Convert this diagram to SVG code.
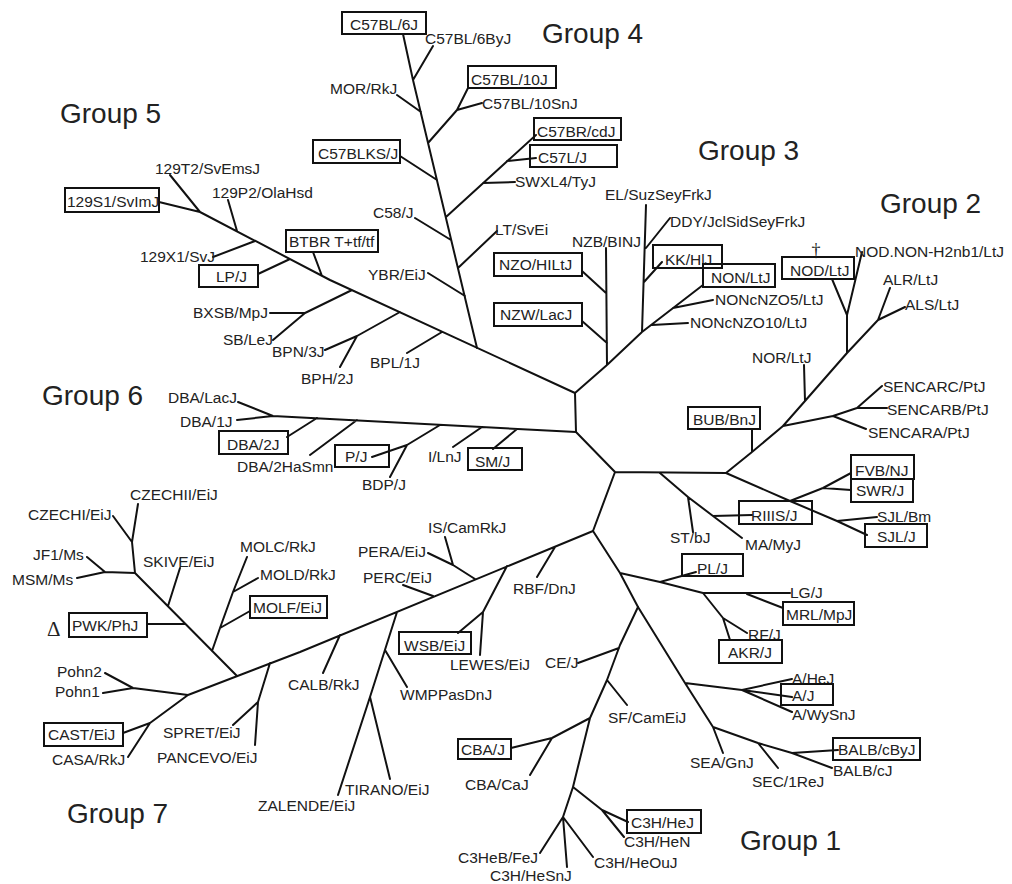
<svg xmlns="http://www.w3.org/2000/svg" width="1012" height="884" viewBox="0 0 1012 884">
<style>
.ln{stroke:#111;stroke-width:2;fill:none;stroke-linecap:round;stroke-linejoin:round}
.bx{fill:none;stroke:#111;stroke-width:2}
.t{font-family:"Liberation Sans",Arial,sans-serif;font-size:15.5px;fill:#222}
.g{font-family:"Liberation Sans",Arial,sans-serif;font-size:28px;fill:#222}
.s{font-family:"Liberation Serif","Times New Roman",serif;fill:#222}
</style>
<rect width="1012" height="884" fill="#fff"/>
<g id="connectors" class="ln">
<path d="M575,393 L576,432 L615,472 L726,473 M615,472 L593,531"/>
<path d="M575,393 L607,365 L642,332 L703,285 M607,365 L606,248 M606,293 L582,271 M607,343 L582,321 M642,332 L646,205 M646,248 L670,218 M644,282 L662,262 M652,325 L688,323 M673,308 L713,300"/>
<path d="M726,473 L752,452 L783,426 L805,401 L847,353 L878,320 L905,307 M878,320 L890,288 M847,353 L847,315 L832,279 M847,315 L862,252 M805,401 L804,365 M752,452 L752,429 M783,426 L833,416 L866,429 M833,416 L857,408 L887,408 M857,408 L882,386"/>
<path d="M726,473 L790,501 L837,521 L867,535 M790,501 L823,488 L851,473 M823,488 L851,490 M837,521 L877,517 M660,473 L688,497 L713,516 L742,538 M688,497 L693,532 M713,516 L752,515"/>
<path d="M593,531 L620,573 L638,607 L685,683 L713,727 L758,743 L792,753 L832,768 M620,573 L660,582 L703,593 L790,593 M660,582 L696,572 M747,594 L783,608 M703,593 L723,618 L730,640 M723,618 L747,633 M685,683 L742,690 L792,679 M742,690 L792,697 M742,690 L792,712 M713,727 L723,753 M758,743 L778,768 M792,753 L838,750"/>
<path d="M638,607 L620,645 L607,680 L590,718 L573,787 L563,817 L540,853 M619,648 L578,663 M607,680 L627,705 M590,718 L552,738 L511,748 M552,738 L530,775 M573,787 L602,810 L628,822 M602,810 L624,837 M563,817 L567,867 M563,817 L593,857"/>
<path d="M593,531 L300,652 L188,695 L133,688 L105,673 M133,688 L103,693 M188,695 L150,723 L123,733 M150,723 L128,757 M555,547 L537,577 M507,566 L483,612 L458,633 M483,612 L480,655 M475,579 L453,565 L445,537 M453,565 L428,553 M433,596 L403,585 M397,612 L370,697 L338,795 M385,650 L407,687 M370,697 L390,779 M340,635 L323,673 M270,663 L258,702 L233,725 M258,702 L255,745"/>
<path d="M237,676 L135,573 L105,572 L87,557 M105,572 L77,578 M135,573 L132,542 L113,516 M132,542 L138,504 M212,651 L220,628 L233,592 L247,557 M220,628 L250,611 M233,592 L258,578 M185,624 L147,624 M168,606 L180,568"/>
<path d="M576,432 L273,416 L238,402 M273,416 L237,420 M517,429 L493,449 M482,427 L453,447 M440,425 L407,445 L372,457 M407,445 L390,477 M357,420 L310,455 M317,418 L287,437"/>
<path d="M575,393 L330,280 L200,212 L170,175 M200,212 L159,202 M237,231 L228,200 M255,241 L213,257 M290,259 L258,274 M322,276 L313,252 M352,290 L305,313 L270,313 M305,313 L273,340 M400,312 L357,336 L325,350 M357,336 L340,367 M442,332 L407,353"/>
<path d="M477,348 L413,80 L403,34 M413,80 L433,46 M465,296 L428,273 M458,268 L497,231 M451,240 L415,218 M446,217 L536,135 M483,183 L515,182 M507,161 L536,158 M437,180 L400,156 M428,143 L457,110 L482,103 M457,110 L468,88 M421,112 L397,95"/>
</g>
<g id="group-labels">
<text class="g" x="542" y="43">Group 4</text>
<text class="g" x="60" y="123">Group 5</text>
<text class="g" x="698" y="160">Group 3</text>
<text class="g" x="880" y="213">Group 2</text>
<text class="g" x="42" y="405">Group 6</text>
<text class="g" x="67" y="823">Group 7</text>
<text class="g" x="740" y="850">Group 1</text>
</g>
<g id="n-C57BL-6J"><rect class="bx" x="342" y="12" width="84" height="22"/><text class="t" x="350" y="30">C57BL/6J</text></g>
<g id="n-C57BL-6ByJ"><text class="t" x="425" y="44">C57BL/6ByJ</text></g>
<g id="n-MOR-RkJ"><text class="t" x="330" y="94">MOR/RkJ</text></g>
<g id="n-C57BL-10J"><rect class="bx" x="468" y="66" width="88" height="22"/><text class="t" x="471" y="85">C57BL/10J</text></g>
<g id="n-C57BL-10SnJ"><text class="t" x="482" y="109">C57BL/10SnJ</text></g>
<g id="n-C57BR-cdJ"><rect class="bx" x="534" y="118" width="87" height="22"/><text class="t" x="537" y="137">C57BR/cdJ</text></g>
<g id="n-C57L-J"><rect class="bx" x="530" y="145" width="87" height="22"/><text class="t" x="538" y="163">C57L/J</text></g>
<g id="n-C57BLKS-J"><rect class="bx" x="313" y="140" width="87" height="23"/><text class="t" x="318" y="159">C57BLKS/J</text></g>
<g id="n-SWXL4-TyJ"><text class="t" x="515" y="187">SWXL4/TyJ</text></g>
<g id="n-C58-J"><text class="t" x="373" y="218">C58/J</text></g>
<g id="n-LT-SvEi"><text class="t" x="495" y="235">LT/SvEi</text></g>
<g id="n-YBR-EiJ"><text class="t" x="368" y="280">YBR/EiJ</text></g>
<g id="n-129T2-SvEmsJ"><text class="t" x="155" y="174">129T2/SvEmsJ</text></g>
<g id="n-129P2-OlaHsd"><text class="t" x="212" y="198">129P2/OlaHsd</text></g>
<g id="n-129S1-SvImJ"><rect class="bx" x="65" y="188" width="94" height="24"/><text class="t" x="67" y="207">129S1/SvImJ</text></g>
<g id="n-129X1-SvJ"><text class="t" x="140" y="262">129X1/SvJ</text></g>
<g id="n-BTBR"><rect class="bx" x="286" y="230" width="92" height="22"/><text class="t" x="289" y="247">BTBR T+tf/tf</text></g>
<g id="n-LP-J"><rect class="bx" x="199" y="265" width="59" height="22"/><text class="t" x="216" y="282">LP/J</text></g>
<g id="n-BXSB-MpJ"><text class="t" x="193" y="318">BXSB/MpJ</text></g>
<g id="n-SB-LeJ"><text class="t" x="223" y="345">SB/LeJ</text></g>
<g id="n-BPN-3J"><text class="t" x="272" y="357">BPN/3J</text></g>
<g id="n-BPH-2J"><text class="t" x="301" y="384">BPH/2J</text></g>
<g id="n-BPL-1J"><text class="t" x="370" y="368">BPL/1J</text></g>
<g id="n-EL"><text class="t" x="605" y="200">EL/SuzSeyFrkJ</text></g>
<g id="n-DDY"><text class="t" x="670" y="227">DDY/JclSidSeyFrkJ</text></g>
<g id="n-NZB-BINJ"><text class="t" x="572" y="247">NZB/BINJ</text></g>
<g id="n-NZO-HILtJ"><rect class="bx" x="494" y="253" width="88" height="23"/><text class="t" x="499" y="270">NZO/HILtJ</text></g>
<g id="n-NZW-LacJ"><rect class="bx" x="494" y="303" width="88" height="23"/><text class="t" x="500" y="320">NZW/LacJ</text></g>
<g id="n-KK-HlJ"><rect class="bx" x="653" y="245" width="69" height="23"/><text class="t" x="665" y="265">KK/HlJ</text></g>
<g id="n-NON-LtJ"><rect class="bx" x="703" y="264" width="72" height="23"/><text class="t" x="711" y="283">NON/LtJ</text></g>
<g id="n-NONcNZO5"><text class="t" x="715" y="305">NONcNZO5/LtJ</text></g>
<g id="n-NONcNZO10"><text class="t" x="690" y="328">NONcNZO10/LtJ</text></g>
<g id="n-NOD-LtJ"><rect class="bx" x="782" y="257" width="72" height="22"/><text class="t" x="790" y="276">NOD/LtJ</text><text class="s" x="816" y="256" font-size="18" text-anchor="middle">†</text></g>
<g id="n-NOD-NON"><text class="t" x="855" y="257">NOD.NON-H2nb1/LtJ</text></g>
<g id="n-ALR-LtJ"><text class="t" x="883" y="285">ALR/LtJ</text></g>
<g id="n-ALS-LtJ"><text class="t" x="905" y="310">ALS/LtJ</text></g>
<g id="n-NOR-LtJ"><text class="t" x="752" y="363">NOR/LtJ</text></g>
<g id="n-SENCARC"><text class="t" x="883" y="392">SENCARC/PtJ</text></g>
<g id="n-SENCARB"><text class="t" x="887" y="415">SENCARB/PtJ</text></g>
<g id="n-SENCARA"><text class="t" x="868" y="438">SENCARA/PtJ</text></g>
<g id="n-BUB-BnJ"><rect class="bx" x="688" y="407" width="72" height="22"/><text class="t" x="693" y="425">BUB/BnJ</text></g>
<g id="n-FVB-NJ"><rect class="bx" x="851" y="455" width="63" height="24"/><text class="t" x="855" y="476">FVB/NJ</text></g>
<g id="n-SWR-J"><rect class="bx" x="851" y="479" width="62" height="23"/><text class="t" x="856" y="496">SWR/J</text></g>
<g id="n-RIIIS-J"><rect class="bx" x="739" y="501" width="73" height="23"/><text class="t" x="751" y="521">RIIIS/J</text></g>
<g id="n-SJL-Bm"><text class="t" x="877" y="522">SJL/Bm</text></g>
<g id="n-SJL-J"><rect class="bx" x="865" y="524" width="62" height="23"/><text class="t" x="877" y="542">SJL/J</text></g>
<g id="n-ST-bJ"><text class="t" x="670" y="543">ST/bJ</text></g>
<g id="n-MA-MyJ"><text class="t" x="745" y="550">MA/MyJ</text></g>
<g id="n-PL-J"><rect class="bx" x="682" y="554" width="61" height="22"/><text class="t" x="697" y="574">PL/J</text></g>
<g id="n-LG-J"><text class="t" x="790" y="598">LG/J</text></g>
<g id="n-MRL-MpJ"><rect class="bx" x="783" y="602" width="71" height="23"/><text class="t" x="786" y="620">MRL/MpJ</text></g>
<g id="n-RF-J"><text class="t" x="748" y="640">RF/J</text></g>
<g id="n-AKR-J"><rect class="bx" x="719" y="640" width="63" height="23"/><text class="t" x="728" y="658">AKR/J</text></g>
<g id="n-A-HeJ"><text class="t" x="792" y="684">A/HeJ</text></g>
<g id="n-A-J"><rect class="bx" x="781" y="684" width="52" height="21"/><text class="t" x="792" y="701">A/J</text></g>
<g id="n-A-WySnJ"><text class="t" x="792" y="720">A/WySnJ</text></g>
<g id="n-BALB-cByJ"><rect class="bx" x="833" y="738" width="87" height="22"/><text class="t" x="838" y="755">BALB/cByJ</text></g>
<g id="n-BALB-cJ"><text class="t" x="833" y="776">BALB/cJ</text></g>
<g id="n-SEA-GnJ"><text class="t" x="690" y="768">SEA/GnJ</text></g>
<g id="n-SEC-1ReJ"><text class="t" x="752" y="787">SEC/1ReJ</text></g>
<g id="n-CE-J"><text class="t" x="545" y="668">CE/J</text></g>
<g id="n-SF-CamEiJ"><text class="t" x="608" y="723">SF/CamEiJ</text></g>
<g id="n-CBA-J"><rect class="bx" x="458" y="739" width="53" height="20"/><text class="t" x="461" y="755">CBA/J</text></g>
<g id="n-CBA-CaJ"><text class="t" x="465" y="790">CBA/CaJ</text></g>
<g id="n-C3H-HeJ"><rect class="bx" x="627" y="810" width="74" height="23"/><text class="t" x="631" y="828">C3H/HeJ</text></g>
<g id="n-C3H-HeN"><text class="t" x="624" y="847">C3H/HeN</text></g>
<g id="n-C3HeB-FeJ"><text class="t" x="458" y="863">C3HeB/FeJ</text></g>
<g id="n-C3H-HeSnJ"><text class="t" x="490" y="881">C3H/HeSnJ</text></g>
<g id="n-C3H-HeOuJ"><text class="t" x="594" y="868">C3H/HeOuJ</text></g>
<g id="n-RBF-DnJ"><text class="t" x="513" y="594">RBF/DnJ</text></g>
<g id="n-IS-CamRkJ"><text class="t" x="428" y="533">IS/CamRkJ</text></g>
<g id="n-PERA-EiJ"><text class="t" x="358" y="557">PERA/EiJ</text></g>
<g id="n-PERC-EiJ"><text class="t" x="363" y="583">PERC/EiJ</text></g>
<g id="n-WSB-EiJ"><rect class="bx" x="399" y="632" width="72" height="22"/><text class="t" x="404" y="651">WSB/EiJ</text></g>
<g id="n-LEWES-EiJ"><text class="t" x="450" y="670">LEWES/EiJ</text></g>
<g id="n-WMPPasDnJ"><text class="t" x="400" y="700">WMPPasDnJ</text></g>
<g id="n-CALB-RkJ"><text class="t" x="288" y="690">CALB/RkJ</text></g>
<g id="n-TIRANO-EiJ"><text class="t" x="345" y="795">TIRANO/EiJ</text></g>
<g id="n-ZALENDE-EiJ"><text class="t" x="258" y="811">ZALENDE/EiJ</text></g>
<g id="n-SPRET-EiJ"><text class="t" x="163" y="738">SPRET/EiJ</text></g>
<g id="n-PANCEVO-EiJ"><text class="t" x="157" y="763">PANCEVO/EiJ</text></g>
<g id="n-Pohn2"><text class="t" x="57" y="677">Pohn2</text></g>
<g id="n-Pohn1"><text class="t" x="55" y="697">Pohn1</text></g>
<g id="n-CAST-EiJ"><rect class="bx" x="44" y="723" width="79" height="23"/><text class="t" x="48" y="740">CAST/EiJ</text></g>
<g id="n-CASA-RkJ"><text class="t" x="52" y="765">CASA/RkJ</text></g>
<g id="n-PWK-PhJ"><rect class="bx" x="69" y="613" width="78" height="24"/><text class="t" x="72" y="631">PWK/PhJ</text><text class="s" x="47" y="636" font-size="21">Δ</text></g>
<g id="n-MOLF-EiJ"><rect class="bx" x="250" y="596" width="77" height="22"/><text class="t" x="253" y="613">MOLF/EiJ</text></g>
<g id="n-MOLD-RkJ"><text class="t" x="260" y="580">MOLD/RkJ</text></g>
<g id="n-MOLC-RkJ"><text class="t" x="240" y="552">MOLC/RkJ</text></g>
<g id="n-SKIVE-EiJ"><text class="t" x="143" y="567">SKIVE/EiJ</text></g>
<g id="n-CZECHII-EiJ"><text class="t" x="130" y="500">CZECHII/EiJ</text></g>
<g id="n-CZECHI-EiJ"><text class="t" x="28" y="520">CZECHI/EiJ</text></g>
<g id="n-JF1-Ms"><text class="t" x="33" y="560">JF1/Ms</text></g>
<g id="n-MSM-Ms"><text class="t" x="12" y="585">MSM/Ms</text></g>
<g id="n-DBA-LacJ"><text class="t" x="168" y="403">DBA/LacJ</text></g>
<g id="n-DBA-1J"><text class="t" x="180" y="427">DBA/1J</text></g>
<g id="n-DBA-2J"><rect class="bx" x="219" y="431" width="69" height="23"/><text class="t" x="227" y="450">DBA/2J</text></g>
<g id="n-DBA-2HaSmn"><text class="t" x="237" y="472">DBA/2HaSmn</text></g>
<g id="n-P-J"><rect class="bx" x="335" y="445" width="54" height="22"/><text class="t" x="345" y="462">P/J</text></g>
<g id="n-BDP-J"><text class="t" x="362" y="490">BDP/J</text></g>
<g id="n-I-LnJ"><text class="t" x="428" y="462">I/LnJ</text></g>
<g id="n-SM-J"><rect class="bx" x="468" y="448" width="54" height="22"/><text class="t" x="475" y="467">SM/J</text></g>
</svg>
